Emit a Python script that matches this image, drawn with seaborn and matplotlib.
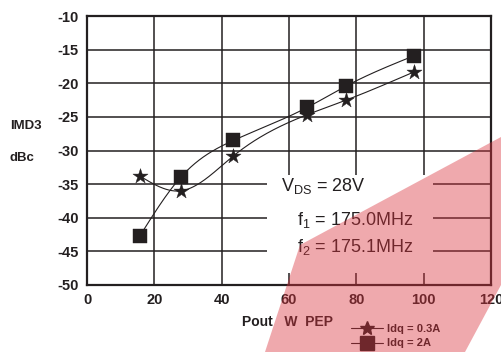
import numpy as np
import pandas as pd
import matplotlib
matplotlib.use("Agg")
import matplotlib.pyplot as plt
import seaborn as sns
from matplotlib.patches import Polygon, Rectangle
from matplotlib.lines import Line2D

# ---- data ----
pout_03 = [15.7, 27.8, 43.5, 65.3, 77.0, 97.2]
imd_03 = [-33.8, -36.0, -30.8, -24.7, -22.5, -18.3]
pout_2 = [15.7, 27.8, 43.5, 65.4, 77.0, 97.2]
imd_2 = [-42.7, -34.0, -28.5, -23.6, -20.4, -15.9]
series_labels = ["Idq = 0.3A", "Idq = 2A"]
x_ticks = [0, 20, 40, 60, 80, 100, 120]
y_ticks = [-50, -45, -40, -35, -30, -25, -20, -15, -10]

sns.set_style("white")
plt.rcParams["font.family"] = ["Liberation Sans", "DejaVu Sans"]
plt.rcParams["mathtext.fontset"] = "custom"
plt.rcParams["mathtext.rm"] = "Liberation Sans"
plt.rcParams["mathtext.it"] = "Liberation Sans:italic"


def natural_spline(x, y, n=200):
    x = np.asarray(x, float)
    y = np.asarray(y, float)
    k = len(x)
    h = np.diff(x)
    A = np.zeros((k, k))
    b = np.zeros(k)
    A[0, 0] = 1
    A[-1, -1] = 1
    for i in range(1, k - 1):
        A[i, i - 1] = h[i - 1]
        A[i, i] = 2 * (h[i - 1] + h[i])
        A[i, i + 1] = h[i]
        b[i] = 6 * ((y[i + 1] - y[i]) / h[i] - (y[i] - y[i - 1]) / h[i - 1])
    M = np.linalg.solve(A, b)
    xs = np.linspace(x[0], x[-1], n)
    idx = np.clip(np.searchsorted(x, xs) - 1, 0, k - 2)
    x0, x1 = x[idx], x[idx + 1]
    hh = x1 - x0
    ys = (M[idx] * (x1 - xs) ** 3 / (6 * hh) + M[idx + 1] * (xs - x0) ** 3 / (6 * hh)
          + (y[idx] / hh - M[idx] * hh / 6) * (x1 - xs)
          + (y[idx + 1] / hh - M[idx + 1] * hh / 6) * (xs - x0))
    return xs, ys


fig = plt.figure(figsize=(5.01, 3.52), dpi=100)
ax = fig.add_axes([87 / 501, 1 - 285 / 352, (491 - 87) / 501, (285 - 16) / 352])

ink = "#231f20"

for xs_, ys_ in [(pout_03, imd_03), (pout_2, imd_2)]:
    sx, sy = natural_spline(xs_, ys_)
    sns.lineplot(x=sx, y=sy, ax=ax, color=ink, linewidth=0.8, sort=False, zorder=3)

sns.scatterplot(x=pout_03, y=imd_03, ax=ax, marker="*", s=130, color=ink,
                edgecolor=ink, linewidth=0.3, zorder=4)
sns.scatterplot(x=pout_2, y=imd_2, ax=ax, marker="s", s=95, color=ink,
                edgecolor=ink, linewidth=0.3, zorder=5)

ax.set_xlim(0, 120)
ax.set_ylim(-50, -10)
ax.set_xticks(x_ticks)
ax.set_yticks(y_ticks)
ax.set_xticklabels([str(v) for v in x_ticks], fontsize=10.5, fontweight="bold", color=ink)
ax.set_yticklabels([str(v) for v in y_ticks], fontsize=10.5, fontweight="bold", color=ink)
ax.tick_params(axis="both", length=0, pad=6)
ax.grid(True, color=ink, linewidth=1.1)
ax.set_axisbelow(True)
for sp in ax.spines.values():
    sp.set_color(ink)
    sp.set_linewidth(1.6)
ax.set_xlabel("")
ax.set_ylabel("")

# white box behind the condition text
ax.add_patch(Rectangle((53.5, -48.2), 49.3, 14.5, facecolor="white", edgecolor="none", zorder=2))
ax.text(57.5, -35.3, "V$_{\\mathrm{DS}}$ = 28V", fontsize=13, color=ink, va="center", ha="left", zorder=6)
ax.text(62.5, -40.4, "f$_{1}$ = 175.0MHz", fontsize=13, color=ink, va="center", ha="left", zorder=6)
ax.text(62.5, -44.4, "f$_{2}$ = 175.1MHz", fontsize=13, color=ink, va="center", ha="left", zorder=6)

fig.text(10 / 501, 1 - 126 / 352, "IMD3", fontsize=9.5, fontweight="bold", color=ink, va="center")
fig.text(10 / 501, 1 - 158 / 352, "dBc", fontsize=9.5, fontweight="bold", color=ink, va="center")
fig.text(242 / 501, 1 - 322 / 352, "Pout   W  PEP", fontsize=10, fontweight="bold", color=ink, va="center")

handles = [
    Line2D([], [], color=ink, linewidth=0.8, marker="*", markersize=10, label=series_labels[0]),
    Line2D([], [], color=ink, linewidth=0.8, marker="s", markersize=10, label=series_labels[1]),
]
leg = fig.legend(handles=handles, loc="center left", bbox_to_anchor=(351 / 501, 1 - 336 / 352),
                 frameon=False, prop={"size": 8, "weight": "bold"}, handlelength=2.9,
                 handletextpad=0.3, labelspacing=0.45, borderpad=0, borderaxespad=0)
for t in leg.get_texts():
    t.set_color(ink)

# watermark band
pts = [(300, 245), (501, 137), (501, 285), (465, 352), (265, 352)]
poly = Polygon([(x / 501, 1 - y / 352) for x, y in pts], closed=True, transform=fig.transFigure,
               facecolor=(0.85, 0.2, 0.24), edgecolor="none", alpha=0.42, zorder=20)
fig.patches.append(poly)

fig.savefig("out.png", dpi=100)
